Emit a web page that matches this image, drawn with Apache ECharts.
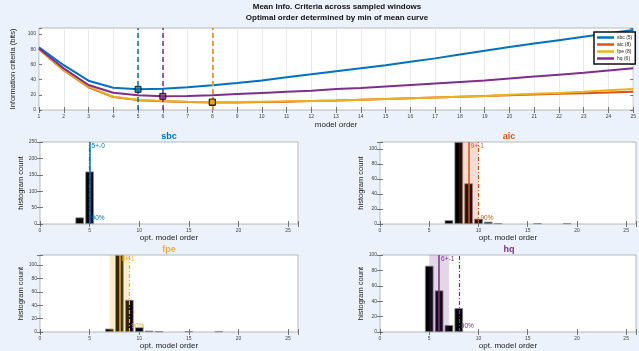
<!DOCTYPE html>
<html><head><meta charset="utf-8">
<script src="https://cdn.jsdelivr.net/npm/echarts@6/dist/echarts.min.js"></script>
<style>html,body{margin:0;padding:0;background:#ebf2fb;}#c{width:639px;height:351px;}</style>
</head><body><div id="c"></div>
<script>
// ---- data ----
const modelOrders = [1,2,3,4,5,6,7,8,9,10,11,12,13,14,15,16,17,18,19,20,21,22,23,24,25];
const sbcMean = [82.5,59,38.6,29.4,27.2,28,30,32.5,35.5,39,43,47,51,55,59,63.5,68,73,78,83,87.5,92,96.5,101,105.5];
const aicMean = [80,52,30,17,13,11.5,10.5,10,10,10.5,11,12,12.5,13.5,14.5,15.5,16.5,17.5,18.5,19.5,20.5,21.5,22,23,24];
const fpeMean = [80,52.6,30.7,17.5,13.5,12,11,10.5,10.5,11,11.5,12,12.5,13.5,14.5,15.5,16.5,17.5,18.5,20,21.5,22.5,24,26,27.5];
const hqMean  = [81,54.8,32.9,22.8,19.3,18,18.5,19.5,21,22.5,24,25.5,27.5,29,31,33,35,37,39,41.5,44,46.5,49,52,55];
const critNames = ['sbc','aic','fpe','hq'];
const optOrders = [5,8,8,6];
const yTicksTop = [0,20,40,60,80,100];

const sbcHistOrders = [4,5];
const sbcHistCounts = [20,160];
const aicHistOrders = [7,8,9,10,11,12,16,19];
const aicHistCounts = [5,109,54,7,3,1,1,1];
const fpeHistOrders = [7,8,9,10,11,12,15,18];
const fpeHistCounts = [5,115,48,7,2,1,1,1];
const hqHistOrders  = [5,6,7,8];
const hqHistCounts  = [86,54,9,31];
const histMean   = [5,9,8,6];
const histSpread = [0,1,1,1];
const histP90    = [5,10,9,8];
const histYMax   = [250,109,115,100];
const histYStep  = [50,20,20,20];

// ---- styling ----
const colors = ['#0072BD','#D95319','#EDB120','#7E2F8E'];
const shade  = ['rgba(0,114,189,0.2)','rgba(217,83,25,0.2)','rgba(237,177,32,0.22)','rgba(126,47,142,0.2)'];
const FONT = '"Liberation Sans", Arial, sans-serif';
const meanSeries = [sbcMean, aicMean, fpeMean, hqMean];
const histO = [sbcHistOrders, aicHistOrders, fpeHistOrders, hqHistOrders];
const histC = [sbcHistCounts, aicHistCounts, fpeHistCounts, hqHistCounts];

const grids = [
  {left:39, right:0, top:28, bottom:241},
  {left:40, width:258, top:142, height:82},
  {left:380, width:258, top:142, height:82},
  {left:40, width:258, top:255, height:82},
  {left:380, width:258, top:255, height:82}
].map(g => Object.assign({show:true, backgroundColor:'#fff', borderColor:'#a8a8a8', borderWidth:0.8}, g));

const xAxes = [], yAxes = [];
function addAxes(gi, xcfg, ycfg) {
  xAxes.push(Object.assign({type:'value', gridIndex:gi, position:'bottom',
    axisLine:{show:false}, axisTick:{inside:true, length:3, lineStyle:{color:'#555', width:0.8}},
    splitLine:{show:false},
    axisLabel:{fontSize:5, color:'#444', margin:4, fontFamily:FONT},
    nameLocation:'middle', nameTextStyle:{fontSize:8, color:'#222', fontFamily:FONT}}, xcfg));
  xAxes.push({type:'value', gridIndex:gi, position:'top', min:xcfg.min, max:xcfg.max, interval:xcfg.interval,
    axisLine:{show:false}, axisTick:{inside:true, length:3, lineStyle:{color:'#555', width:0.8}},
    axisLabel:{show:false}, splitLine:{show:false}});
  yAxes.push(Object.assign({type:'value', gridIndex:gi, position:'left',
    axisLine:{show:false}, axisTick:{inside:true, length:3, lineStyle:{color:'#555', width:0.8}},
    splitLine:{show:false},
    axisLabel:{fontSize:5, color:'#444', margin:3, fontFamily:FONT},
    nameLocation:'middle', nameRotate:90, nameTextStyle:{fontSize:7.5, color:'#222', fontFamily:FONT}}, ycfg));
  yAxes.push({type:'value', gridIndex:gi, position:'right', min:ycfg.min, max:ycfg.max, interval:ycfg.interval,
    axisLine:{show:false}, axisTick:{inside:true, length:3, lineStyle:{color:'#555', width:0.8}},
    axisLabel:{show:false}, splitLine:{show:false}});
}
addAxes(0,
  {min:1, max:25, interval:1, name:'model order', nameGap:11,
   splitLine:{show:true, lineStyle:{color:'#e3e3e3', width:0.8}}},
  {min:0, max:108, interval:20, name:'Information criteria (bits)', nameGap:12,
   axisLabel:{fontSize:5, color:'#444', margin:3, fontFamily:FONT,
     formatter: v => yTicksTop.indexOf(v) >= 0 ? String(v) : ''}});
for (let k = 0; k < 4; k++) {
  const step = histYStep[k];
  addAxes(k+1,
    {min:0, max:26, interval:5, name:'opt. model order', nameGap:10,
     axisLabel:{fontSize:5, color:'#444', margin:4, fontFamily:FONT, formatter: v => v % 5 === 0 ? String(v) : ''}},
    {min:0, max:histYMax[k], interval:step, name:'histogram count', nameGap:12,
     axisLabel:{fontSize:5, color:'#444', margin:3, fontFamily:FONT, formatter: v => v % step === 0 ? String(v) : ''}});
}

const series = [];
// top chart mean curves
for (let i = 0; i < 4; i++) {
  series.push({
    name: critNames[i] + ' (' + optOrders[i] + ')',
    type:'line', xAxisIndex:0, yAxisIndex:0, showSymbol:false, symbol:'none',
    data: modelOrders.map((o, j) => [o, meanSeries[i][j]]),
    lineStyle:{color:colors[i], width:2}, itemStyle:{color:colors[i]}, z:2,
    markLine:{silent:true, symbol:'none', label:{show:false},
      lineStyle:{color:colors[i], width:1.5, type:[5,3]},
      data:[{xAxis: optOrders[i]}]}
  });
}
// optimum markers (aic drawn before fpe)
series.push({
  type:'scatter', xAxisIndex:0, yAxisIndex:0, symbol:'rect', symbolSize:6, z:5,
  data: optOrders.map((o, i) => ({value:[o, meanSeries[i][o-1]],
    itemStyle:{color:colors[i], borderColor:'#000', borderWidth:1}}))
});

// histograms
for (let k = 0; k < 4; k++) {
  const xa = 2 + k*2, ya = 2 + k*2;
  series.push({
    type:'bar', xAxisIndex:xa, yAxisIndex:ya, barWidth:8.6, z:2,
    data: histO[k].map((o, j) => [o, histC[k][j]]),
    itemStyle:{color:'#000', borderColor:'#8a8a8a', borderWidth:0.8}
  });
  const lo = histMean[k] - histSpread[k], hi = histMean[k] + histSpread[k];
  const ymax = histYMax[k];
  series.push({
    type:'custom', xAxisIndex:xa, yAxisIndex:ya, z:4, silent:true,
    data: histSpread[k] > 0 ? [[lo, hi, ymax]] : [],
    renderItem: (params, api) => {
      const p0 = api.coord([api.value(0), api.value(2)]);
      const p1 = api.coord([api.value(1), 0]);
      return {type:'rect', shape:{x:p0[0], y:p0[1], width:p1[0]-p0[0], height:p1[1]-p0[1]},
        style:{fill:shade[k]}};
    },
    markLine:{silent:true, symbol:'none', label:{show:false},
      data:[
        {xAxis: histP90[k], lineStyle:{color:colors[k], width:1.2, type:[4,2,1,2]}},
        {xAxis: histMean[k], lineStyle:{color:colors[k], width:1.5, type:'solid'}}
      ]},
    markPoint:{silent:true, symbol:'rect', symbolSize:0,
      data:[
        {coord:[histMean[k], ymax], label:{show:true, position:[2,1],
          formatter: histMean[k] + '+-' + histSpread[k], color:colors[k], fontSize:6.5, fontFamily:FONT}},
        {coord:[histP90[k], 0], label:{show:true, position:[2,-9],
          formatter:'90%', color:colors[k], fontSize:6.5, fontFamily:FONT}}
      ]}
  });
}

const graphics = [
  {type:'text', x:337, y:3, style:{text:'Mean Info. Criteria across sampled windows', align:'center', font:'bold 8px ' + FONT, fill:'#111'}},
  {type:'text', x:337, y:14, style:{text:'Optimal order determined by min of mean curve', align:'center', font:'bold 8px ' + FONT, fill:'#111'}}
];
const histTitlePos = [[169,132],[509,132],[169,245],[509,245]];
for (let k = 0; k < 4; k++) {
  graphics.push({type:'text', x:histTitlePos[k][0], y:histTitlePos[k][1],
    style:{text:critNames[k], align:'center', font:'bold 9px ' + FONT, fill:colors[k]}});
}

const chart = echarts.init(document.getElementById('c'), null, {renderer:'canvas'});
chart.setOption({
  backgroundColor:'#ebf2fb',
  animation:false,
  grid: grids,
  xAxis: xAxes,
  yAxis: yAxes,
  legend:{
    data: critNames.map((n, i) => n + ' (' + optOrders[i] + ')'),
    orient:'vertical', left:594, top:32, padding:[3,3,3,3], itemGap:2,
    itemWidth:17, itemHeight:2.5, icon:'rect',
    backgroundColor:'#fff', borderColor:'#111', borderWidth:1.5,
    textStyle:{fontSize:5, color:'#222', fontFamily:FONT, padding:[0,0,0,-2]}
  },
  series: series,
  graphic: graphics
});
</script></body></html>
